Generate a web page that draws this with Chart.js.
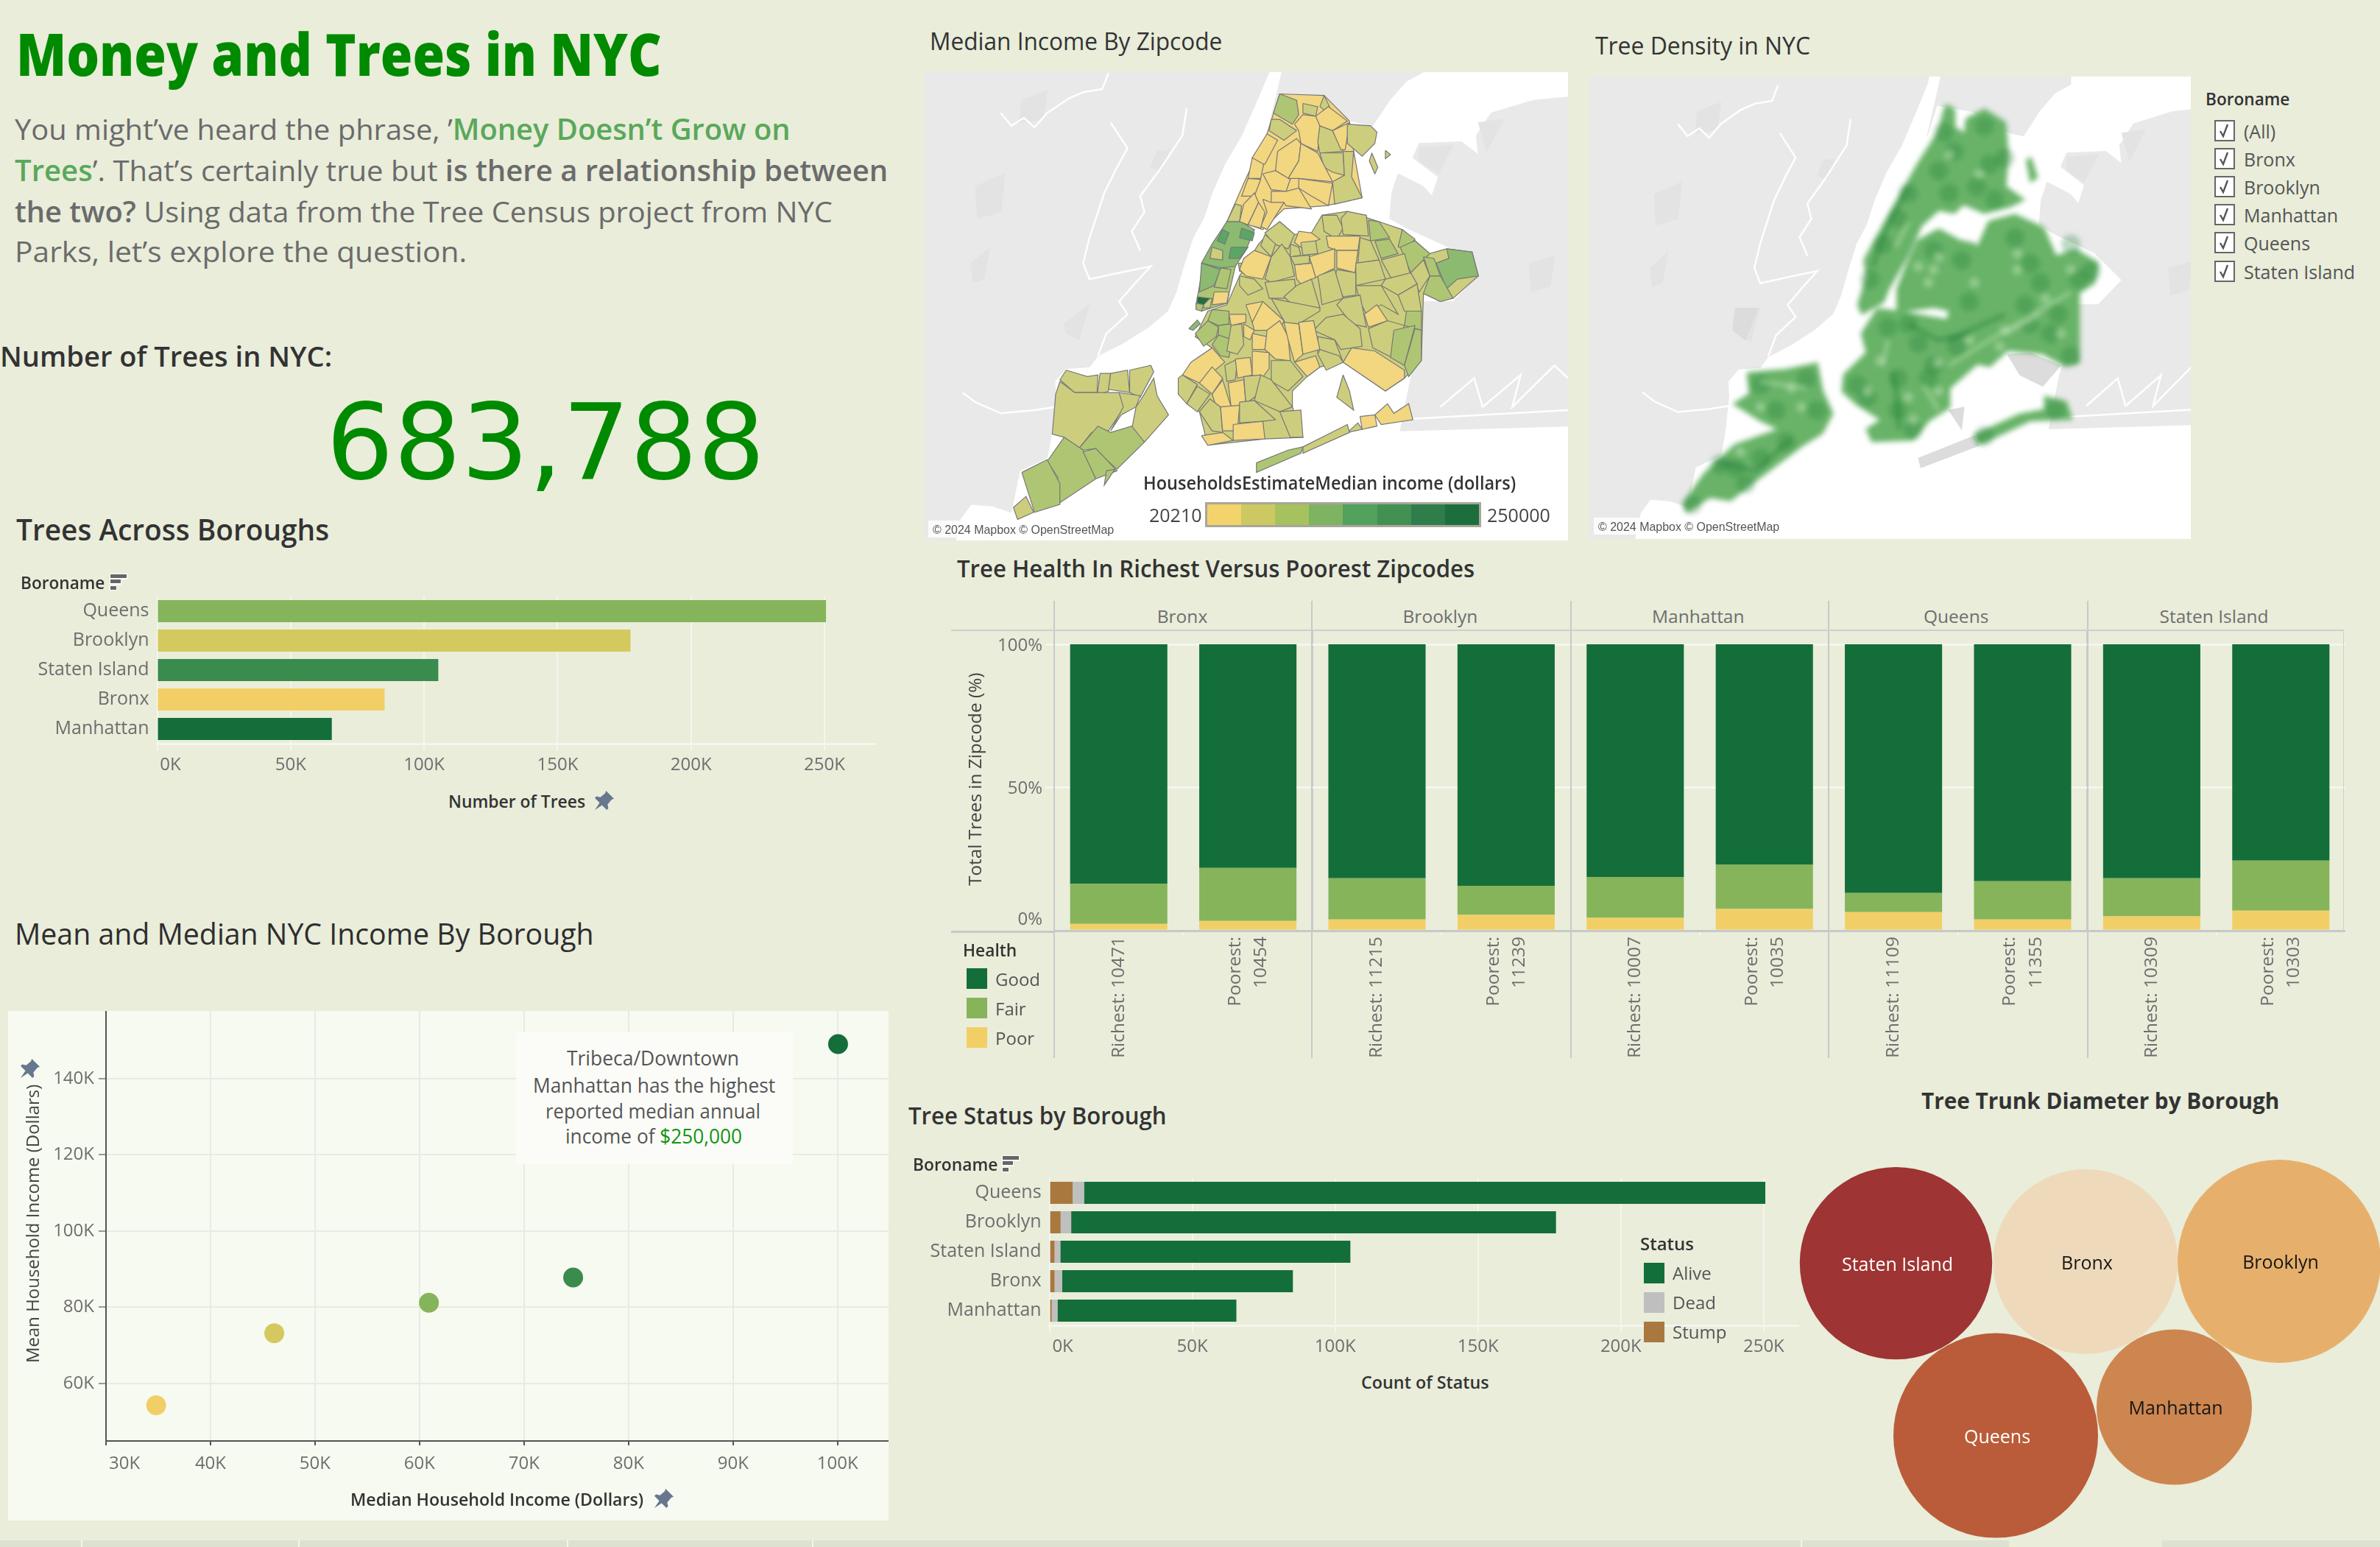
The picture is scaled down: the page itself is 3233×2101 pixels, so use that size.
<!DOCTYPE html>
<html>
<head>
<meta charset="utf-8">
<title>Money and Trees in NYC</title>
<script src="https://cdn.jsdelivr.net/npm/chart.js@4"></script>
<style>
  html, body { margin: 0; padding: 0; background: #e9edda; }
  #page { position: relative; width: 3233px; height: 2101px; overflow: hidden; background: #e9edda; }
  #page canvas, .box { position: absolute; }
  .txt { position: absolute; white-space: pre; transform-origin: 0 0; }
</style>
</head>
<body>
<div id="page"></div>
<script>
// TREES ACROSS BOROUGHS
const boroughs = ["Queens", "Brooklyn", "Staten Island", "Bronx", "Manhattan"];
const treeCounts = [250551, 177293, 105318, 85203, 65423];
const countTicks = [0, 50000, 100000, 150000, 200000, 250000];

// TREE STATUS
const statusStump = [8100, 3900, 1800, 1800, 800];
const statusDead = [4000, 3700, 2000, 2600, 2000];
const statusAlive = [238451, 169693, 101518, 80803, 62623];

// HEALTH IN RICHEST / POOREST ZIPCODES
const healthPanels = ["Bronx", "Brooklyn", "Manhattan", "Queens", "Staten Island"];
const zipLabels = ["Richest: 10471", ["Poorest:", "10454"], "Richest: 11215", ["Poorest:", "11239"],
  "Richest: 10007", ["Poorest:", "10035"], "Richest: 11109", ["Poorest:", "11355"],
  "Richest: 10309", ["Poorest:", "10303"]];
const healthPoor = [2.4, 3.4, 3.9, 5.5, 4.5, 7.6, 6.5, 3.9, 5.0, 7.0];
const healthFair = [13.9, 18.5, 14.4, 10.2, 14.3, 15.4, 6.7, 13.4, 13.3, 17.5];
const healthGood = [83.7, 78.1, 81.7, 84.3, 81.2, 77.0, 86.8, 82.7, 81.7, 75.5];
const healthTicks = [0, 50, 100];

// MEAN / MEDIAN INCOME
const incomeBoroughs = ["Bronx", "Brooklyn", "Queens", "Staten Island", "Manhattan"];
const medianIncome = [34800, 46100, 60900, 74700, 100050];
const meanIncome = [54300, 73200, 81200, 87800, 149000];
const medianTicks = [30000, 40000, 50000, 60000, 70000, 80000, 90000, 100000];
const meanTicks = [60000, 80000, 100000, 120000, 140000];

// TRUNK DIAMETER BUBBLES
const trunkNames = ["Staten Island", "Bronx", "Brooklyn", "Queens", "Manhattan"];
const trunkSize = [130.7, 125.5, 138, 139, 105.5];

// INCOME LEGEND
const incomeSteps = ["#f3d36b", "#ccc962", "#a6c25e", "#7eb461", "#52a15c", "#439053", "#2f7d4b", "#1c6f3c"];
const filterItems = ["(All)", "Bronx", "Brooklyn", "Manhattan", "Queens", "Staten Island"];

// MAP SHAPES as [x, y, x, y, ...] in map units
const landShapes = [
  [-40,15, 830,15, 825,42, 790,150, 760,240, 720,330, 690,420, 670,500, 645,560, 625,640, 605,730, 585,790, 540,840, 480,890, 420,930, 400,965, 345,970, 318,1010, 320,1060, 310,1180, 300,1250, 235,1290, 215,1420, 170,1400, 120,1395, 95,1440, 80,1530, -40,1530],
  [860,15, 1190,15, 1190,42, 1150,70, 1110,130, 1070,210, 1020,195, 940,130, 850,110, 825,210],
  [1532,120, 1450,130, 1350,170, 1315,240, 1320,300, 1280,260, 1180,265, 1165,310, 1225,370, 1210,430, 1190,400, 1130,360, 1115,420, 1110,500, 1150,530, 1250,590, 1320,680, 1260,760, 1190,760, 1180,900, 1160,1000, 1135,1165, 1532,1150]
];
const darkLandShapes = [
  [560,290, 590,285, 570,350, 545,340],
  [340,830, 400,770, 375,880, 345,860],
  [120,640, 165,590, 150,690, 125,700],
  [1320,200, 1380,190, 1340,290],
  [1180,280, 1260,270, 1225,360, 1180,320],
  [240,130, 300,100, 290,190, 235,200],
  [130,400, 200,360, 190,480, 135,500],
  [1440,640, 1500,620, 1490,710, 1445,730]
];
const riverLines = [
  [190,170, 215,210, 245,185, 270,215, 300,170, 350,125, 385,105, 430,95, 445,45],
  [450,200, 490,280, 465,340, 435,420, 400,560, 385,640, 400,690, 470,670, 545,650, 510,700, 470,760, 490,800, 440,860, 420,930],
  [630,155, 620,240, 565,350, 520,430, 530,480, 500,540, 520,600],
  [100,1045, 130,1075, 190,1110, 270,1100, 320,1090],
  [1230,1090, 1310,1000, 1330,1090, 1420,990, 1400,1090, 1500,960, 1532,1000],
  [1150,1128, 1532,1100]
];
const boroughBase = [
  [1, 820,235, 850,110, 955,115, 1015,195, 1025,290, 1045,435, 960,460, 860,470, 810,535, 755,510, 725,510, 770,375],
  [3, 725,510, 790,535, 745,650, 725,765, 665,790, 652,770, 670,640],
  [2, 850,510, 885,550, 925,545, 950,490, 1010,478, 1085,510, 1140,535, 1205,610, 1245,595, 1305,605, 1320,680, 1260,750, 1190,735, 1185,945, 1145,1000, 1100,1040, 1000,950, 945,965, 915,995, 880,1040, 880,1090, 905,1185, 815,1190, 680,1210, 660,1105, 610,1050, 620,990, 690,905, 650,870, 680,790, 725,770, 755,680, 800,580]
];
const bronxZones = [
  [3, 850,110, 890,130, 895,175, 880,205, 835,170],
  [2, 905,140, 940,150, 935,180, 905,170],
  [2, 945,150, 955,115, 968,150, 960,165],
  [1, 935,180, 965,150, 1010,195, 975,225, 930,205],
  [1, 885,205, 905,175, 935,180, 945,210, 940,290, 900,265, 895,225],
  [2, 830,190, 850,190, 890,225, 860,255, 825,225],
  [2, 945,210, 975,225, 1000,290, 945,295, 940,260],
  [1, 975,225, 1015,200, 1005,285, 995,285],
  [2, 1010,205, 1065,210, 1080,230, 1075,265, 1045,305, 1010,265],
  [2, 1068,295, 1082,340, 1075,360, 1062,320],
  [2, 1100,287, 1112,300, 1100,313],
  [2, 945,295, 1000,295, 1003,365, 975,355, 955,340],
  [2, 1000,290, 1025,290, 1020,370, 1045,435, 980,455, 975,385, 1003,365],
  [1, 845,290, 890,250, 900,265, 895,320, 870,375, 840,350],
  [1, 900,265, 940,295, 975,385, 895,375, 870,375, 895,320],
  [1, 895,375, 975,390, 965,460, 925,430, 895,405],
  [1, 810,360, 840,350, 875,378, 865,415, 830,410],
  [1, 830,415, 865,415, 895,405, 925,470, 865,460, 860,450, 830,450],
  [1, 810,440, 830,450, 860,450, 820,535, 805,525, 820,480]
];
const manhattanZones = [
  [1, 820,235, 845,255, 815,330, 800,330, 785,310],
  [1, 785,310, 812,330, 805,375, 775,375],
  [1, 775,375, 805,378, 790,430, 760,430],
  [2, 745,455, 760,460, 755,510, 725,510],
  [1, 765,455, 790,420, 800,450, 775,520, 755,510],
  [1, 800,450, 815,480, 805,530, 775,520],
  [4, 725,510, 755,510, 765,515, 790,535, 770,600, 745,650, 710,655, 665,640, 690,580],
  [5, 715,535, 730,545, 720,580, 702,570],
  [5, 760,530, 790,545, 785,570, 755,560],
  [5, 735,590, 775,590, 755,625, 730,625],
  [2, 690,590, 715,600, 715,630, 685,625],
  [4, 665,640, 710,660, 695,710, 660,730],
  [3, 710,655, 735,660, 725,720, 695,715],
  [1, 695,730, 730,730, 725,765, 690,770],
  [2, 670,755, 690,750, 685,780, 670,780],
  [6, 655,745, 685,750, 670,770, 655,765],
  [3, 652,765, 670,770, 665,790, 652,785],
  [4, 635,845, 655,818, 662,830, 645,850],
  [3, 752,640, 775,640, 770,670, 755,665]
];
const queensZones = [
  [2, 850,510, 885,550, 870,595, 835,580, 815,545],
  [2, 815,550, 840,580, 830,620, 805,585],
  [1, 790,600, 830,620, 810,690, 770,680, 755,660, 765,625],
  [2, 830,620, 855,580, 875,620, 885,680, 830,700, 815,690],
  [2, 755,680, 790,690, 810,720, 775,740, 755,710],
  [2, 815,700, 885,690, 890,740, 860,750, 825,750],
  [1, 895,540, 925,545, 945,565, 900,590, 885,575],
  [2, 875,580, 895,590, 900,615, 875,620],
  [2, 900,575, 935,570, 940,610, 905,615],
  [2, 950,490, 985,490, 1000,530, 985,565, 955,540],
  [2, 1010,478, 1055,490, 1060,555, 1000,550, 995,500],
  [1, 960,555, 1040,555, 1035,600, 985,600, 965,590],
  [3, 1060,505, 1085,510, 1110,560, 1065,570],
  [2, 1040,560, 1065,570, 1085,630, 1035,640],
  [3, 1075,570, 1110,565, 1130,610, 1090,625],
  [3, 1130,590, 1140,535, 1170,565, 1155,590],
  [3, 1135,590, 1170,570, 1205,610, 1160,670],
  [2, 1090,630, 1145,610, 1160,680, 1115,690],
  [1, 985,600, 1035,600, 1028,670, 985,655],
  [1, 920,620, 980,595, 980,655, 935,685],
  [1, 885,645, 925,640, 935,685, 900,705, 890,690],
  [2, 875,620, 920,615, 920,640, 885,645],
  [2, 1030,640, 1085,630, 1100,690, 1030,710],
  [2, 985,660, 1030,670, 1030,740, 1000,745, 980,690],
  [2, 940,680, 980,660, 1000,750, 950,770, 945,720],
  [2, 890,710, 925,690, 945,780, 880,770, 860,745],
  [4, 1245,595, 1305,605, 1320,680, 1270,690, 1245,720, 1220,640, 1250,625],
  [3, 1190,620, 1215,625, 1230,680, 1205,680],
  [3, 1205,680, 1230,680, 1260,750, 1230,760, 1190,735],
  [2, 1160,670, 1190,630, 1205,680, 1180,730],
  [2, 1100,690, 1160,670, 1175,705, 1130,740, 1090,710],
  [2, 1030,710, 1090,710, 1130,800, 1090,770, 1055,800, 1040,760],
  [2, 1000,750, 1040,740, 1055,840, 1020,830, 985,770],
  [2, 1130,740, 1175,705, 1185,790, 1145,790],
  [3, 1150,790, 1185,790, 1185,850, 1145,835],
  [1, 1050,800, 1080,770, 1105,820, 1060,840],
  [2, 1105,820, 1145,835, 1115,935, 1070,905, 1060,845],
  [3, 1120,850, 1170,835, 1145,960, 1112,935],
  [3, 1170,845, 1185,850, 1185,945, 1155,995, 1145,960],
  [1, 1020,905, 1075,915, 1145,975, 1145,1000, 1100,1040, 1000,950],
  [2, 960,810, 1000,800, 1040,845, 1045,900, 995,910, 980,880, 930,850],
  [2, 940,870, 980,880, 1000,950, 960,970, 940,920],
  [2, 830,750, 945,780, 945,790, 870,850, 860,820],
  [2, 1010,1170, 1035,1140, 1045,1160],
  [1, 1040,1120, 1075,1115, 1080,1150, 1045,1160],
  [1, 1075,1115, 1105,1080, 1120,1110, 1155,1080, 1165,1130, 1090,1145],
  [2, 905,1215, 1010,1145, 1015,1170, 905,1235],
  [3, 795,1265, 870,1225, 905,1215, 900,1235, 795,1295],
  [2, 1000,990, 1015,1040, 1025,1100, 985,1060]
];
const brooklynZones = [
  [3, 690,785, 730,790, 730,830, 705,835, 680,820],
  [3, 650,860, 680,820, 705,840, 700,870, 670,900],
  [3, 705,835, 735,830, 738,880, 705,865],
  [3, 690,895, 705,865, 738,880, 730,935, 710,930],
  [1, 730,800, 770,800, 770,825, 735,835],
  [1, 770,770, 810,760, 820,820, 785,825],
  [1, 810,760, 860,820, 850,850, 790,850, 785,825],
  [2, 735,835, 760,830, 765,895, 750,925, 725,915],
  [1, 765,830, 790,850, 780,880, 765,870],
  [1, 785,860, 820,870, 815,910, 785,910],
  [1, 820,850, 850,820, 870,870, 875,945, 840,940, 815,910],
  [1, 860,825, 895,830, 905,925, 885,950, 870,880],
  [1, 895,825, 930,820, 945,910, 905,925],
  [1, 620,990, 640,950, 690,905, 720,950, 660,1015],
  [1, 660,1015, 690,965, 715,1000, 690,1050],
  [2, 610,1000, 620,990, 655,1020, 630,1080, 610,1050],
  [2, 655,1025, 685,1050, 655,1105, 630,1080],
  [1, 690,1050, 715,1005, 735,1090, 700,1090],
  [1, 728,1015, 765,1005, 770,1080, 735,1090],
  [2, 720,960, 750,940, 745,1005, 725,1010],
  [1, 745,940, 780,935, 785,990, 750,1000],
  [1, 785,915, 825,920, 825,970, 805,1005, 785,990],
  [2, 765,995, 805,990, 800,1050, 770,1080],
  [2, 830,945, 875,945, 905,995, 870,1040, 830,1010],
  [2, 805,990, 830,1005, 880,1090, 850,1105, 790,1070],
  [2, 660,1105, 685,1065, 710,1090, 715,1170, 690,1165],
  [1, 710,1090, 755,1085, 750,1165, 715,1165],
  [2, 755,1075, 790,1070, 840,1130, 810,1135, 755,1140],
  [1, 740,1145, 810,1135, 815,1190, 740,1195],
  [1, 665,1180, 715,1170, 740,1195, 680,1210],
  [2, 850,1105, 900,1100, 905,1185, 875,1185],
  [1, 885,950, 935,930, 945,965, 915,995],
  [2, 945,910, 990,930, 1000,950, 960,975, 940,925]
];
const statenZones = [
  [2, 345,975, 395,995, 420,990, 418,1045, 365,1045, 330,1005],
  [2, 425,985, 450,985, 445,1040, 418,1055],
  [2, 450,985, 490,975, 495,1045, 445,1035],
  [2, 495,975, 545,960, 552,980, 520,1060, 495,1045],
  [2, 330,1010, 365,1045, 470,1045, 485,1085, 445,1165, 405,1170, 375,1220, 340,1185, 312,1175, 320,1050],
  [2, 470,1045, 520,1055, 510,1090, 475,1115, 450,1165, 480,1090],
  [2, 525,1060, 552,1000, 560,1055, 587,1115, 530,1200, 500,1160, 510,1090],
  [3, 375,1220, 420,1150, 450,1170, 500,1150, 530,1200, 465,1285, 440,1255, 415,1220, 385,1225],
  [3, 340,1185, 385,1225, 415,1315, 330,1390, 325,1310, 300,1260],
  [3, 385,1230, 415,1220, 465,1290, 415,1315],
  [3, 240,1295, 300,1255, 330,1330, 330,1395, 270,1420],
  [2, 220,1405, 250,1370, 268,1420, 230,1442],
  [3, 440,1290, 460,1285, 435,1335]
];

// DENSITY MAP SHAPES, in the density map's own units
const densityGrayShapes = [
  [835,925, 880,920, 940,960, 905,1025, 860,990],
  [660,1250, 770,1180, 780,1210, 665,1280],
  [720,1100, 750,1090, 745,1160],
  [300,780, 345,780, 320,880, 295,850]
];
const densityZones = [
  [715,145, 730,160, 730,215, 755,240, 745,330, 750,450, 730,480, 700,470, 665,520, 640,610, 600,720, 590,760, 550,795, 543,770, 560,680, 555,630, 610,470, 660,330, 700,230],
  [755,190, 790,160, 830,200, 835,300, 830,400, 865,440, 840,460, 790,480, 745,450, 750,330],
  [880,310, 892,370, 882,380, 875,320],
  [700,535, 740,570, 770,580, 810,690, 835,770, 770,800, 690,775, 620,790, 620,720, 640,640, 660,570],
  [800,510, 850,490, 905,530, 930,620, 970,600, 1012,640, 1005,700, 975,730, 975,950, 950,960, 905,920, 835,910, 800,960, 770,950, 750,880, 720,870, 720,800],
  [580,785, 610,790, 720,820, 790,840, 810,880, 770,960, 720,1030, 720,1090, 680,1130, 650,1190, 570,1195, 560,1160, 590,1130, 540,1080, 512,1040, 515,990, 560,920, 550,860],
  [770,1180, 860,1115, 910,1100, 910,1060, 950,1075, 960,1125, 880,1130, 780,1205],
  [325,985, 400,975, 460,955, 470,1040, 490,1110, 470,1170, 430,1210, 330,1330, 290,1380, 250,1370, 205,1415, 200,1390, 240,1300, 300,1210, 390,1160, 350,1130, 300,1080, 330,1050]
];
const densityDarkStreaks = [
  [610,980, 618,1060, 622,1160],
  [640,400, 600,520, 570,650],
  [640,830, 700,880, 760,860],
  [720,880, 830,800],
  [260,1260, 340,1290, 410,1190]
];
const densityLightStreaks = [
  [720,960, 800,880, 960,730],
  [640,510, 615,590],
  [600,880, 590,960],
  [830,860, 900,800],
  [670,1020, 700,1100],
  [350,1010, 440,1030]
];
const densityDarkX = [640, 620, 590, 565, 730, 700, 790, 800, 830, 745, 690, 850, 880, 960, 1000, 975, 960, 935, 880, 735, 620, 620, 540, 640, 600, 660, 350, 380, 270, 300, 350, 215, 400, 930, 790, 710, 775, 810, 720, 760, 900, 870, 920, 680, 560, 650, 690, 440, 460, 320];
const densityDarkY = [420, 500, 580, 690, 290, 350, 210, 330, 310, 630, 600, 560, 640, 580, 665, 690, 930, 800, 830, 900, 1000, 1100, 1020, 830, 840, 890, 1020, 1100, 1270, 1280, 1250, 1395, 1200, 1100, 1180, 230, 400, 440, 420, 760, 700, 770, 860, 1000, 1060, 1160, 960, 1000, 1100, 1330];
const densityLightX = [680, 690, 660, 700, 855, 700, 585, 760, 650, 410, 350, 830, 910, 960, 770, 720, 780, 855, 940, 820, 640, 700, 560, 430, 310];
const densityLightY = [700, 660, 650, 620, 660, 950, 945, 880, 1130, 1030, 1090, 850, 750, 660, 700, 300, 360, 610, 860, 900, 1060, 1040, 1040, 1090, 1230];

const zoneColors = [null, "#f2d680", "#ccce7d", "#aec673", "#8bba70", "#5ba667", "#1f6f3f"];
const green = { dark: "#146e3a", mid: "#3a8b4e", fair: "#86b45a", olive: "#d4c95f", poor: "#f2cf66" };
const gridColor = "#f4f6ee";
const tickText = "#6e6e6e";

Chart.defaults.font.family = '"Open Sans"';
Chart.defaults.font.size = 24;
Chart.defaults.color = tickText;
Chart.defaults.animation = false;
Chart.defaults.responsive = false;
Chart.defaults.devicePixelRatio = 1;
Chart.defaults.layout.autoPadding = false;
Chart.defaults.plugins.legend.display = false;
Chart.defaults.plugins.tooltip.enabled = false;

const page = document.getElementById("page");
const measure = document.createElement("canvas").getContext("2d");

// text sits on a baseline, and is squeezed to the width it has in the reference
function text(runs, left, baseline, size, o = {}) {
  const family = o.font || '"Open Sans"';
  const el = document.createElement("div");
  el.className = "txt";
  if (typeof runs === "string") runs = [{ t: runs }];
  runs.forEach(r => {
    const s = document.createElement("span");
    s.textContent = r.t;
    s.style.color = r.c || o.c || "#333";
    s.style.fontWeight = r.w || o.w || 400;
    el.appendChild(s);
  });
  el.style.font = `${o.w || 400} ${size}px ${family}`;
  measure.font = el.style.font;
  const m = measure.measureText("Hg");
  const asc = m.fontBoundingBoxAscent, h = asc + m.fontBoundingBoxDescent;
  el.style.lineHeight = h + "px";
  page.appendChild(el);
  const k = o.width ? o.width / el.offsetWidth : 1;
  if (o.rotate) {
    el.style.left = "0px";
    el.style.top = "0px";
    el.style.transform = `translate(${left - h / 2}px, ${baseline}px) rotate(-90deg) scaleX(${k})`;
  } else {
    el.style.left = left + "px";
    el.style.top = baseline - asc + "px";
    el.style.transform = `scaleX(${k})`;
  }
  return el;
}

function box(left, top, w, h, bg, extra = "") {
  const el = document.createElement("div");
  el.className = "box";
  el.style.cssText = `left:${left}px;top:${top}px;width:${w}px;height:${h}px;background:${bg};${extra}`;
  page.appendChild(el);
  return el;
}

function canvas(left, top, w, h, extra = "") {
  const c = document.createElement("canvas");
  c.width = w;
  c.height = h;
  c.style.cssText = `left:${left}px;top:${top}px;width:${w}px;height:${h}px;${extra}`;
  page.appendChild(c);
  return c;
}

function pin(left, top, w, h, rotate = 0) {
  const el = box(left, top, w, h, "transparent", `transform:rotate(${rotate}deg)`);
  el.innerHTML = `<svg width="${w}" height="${h}" viewBox="0 0 24 24"><path fill="#66778f" d="M14 0l10 10-3 1-5 6 1 5-2 2-6-6-9 6 6-9-6-6 2-2 5 1 6-5z"/></svg>`;
}

function sortIcon(left, top) {
  box(left - 1, top - 1, 24, 8, "#fff");
  box(left - 1, top + 6, 16, 8, "#fff");
  box(left - 1, top + 15, 10, 7, "#fff");
  box(left, top, 22, 5, "#666");
  box(left, top + 7, 14, 5, "#666");
  box(left, top + 16, 8, 5, "#666");
}

// moves single tick labels, for the ones the reference pulls inside its panel
const tickNudge = {
  id: "tickNudge",
  beforeDraw(chart, args, opts) {
    Object.keys(opts).forEach(axis => {
      if (!chart.scales[axis]) return;
      const items = chart.scales[axis].getLabelItems();
      Object.keys(opts[axis]).forEach(i => {
        const it = items[i];
        if (!it || it.nudged) return;
        it.options.translation[0] += opts[axis][i][0];
        it.options.translation[1] += opts[axis][i][1];
        it.nudged = true;
      });
    });
  }
};
Chart.register(tickNudge);

const kLabel = v => v / 1000 + "K";
const setTicks = list => s => { s.ticks = list.map(v => ({ value: v })); };
// fixed axis sizes, without the room the library keeps for half a label
const fitX = h => s => { s.height = h; s.paddingLeft = 0; s.paddingRight = 0; };
const fitY = w => s => { s.width = w; s.paddingTop = 0; s.paddingBottom = 0; };

// --- page texts ---
const grey = "#6b6b6b", leaf = "#5aa85a";
text("Money and Trees in NYC", 22, 103, 80, { w: 800, c: "#008a00", width: 877 });
text([{ t: "You might’ve heard the phrase, ’" }, { t: "Money Doesn’t Grow on", c: leaf, w: 600 }], 20, 190, 39, { c: grey, width: 1054 });
text([{ t: "Trees", c: leaf, w: 600 }, { t: "’. That’s certainly true but " }, { t: "is there a relationship between", w: 600 }], 20, 246, 39, { c: grey, width: 1186 });
text([{ t: "the two?", w: 600 }, { t: " Using data from the Tree Census project from NYC" }], 20, 302, 39, { c: grey, width: 1111 });
text("Parks, let’s explore the question.", 20, 356, 39, { c: grey, width: 614 });
text("Number of Trees in NYC:", 0, 498, 38, { w: 600, width: 451 });
text("683,788", 443, 650, 142, { font: '"DejaVu Sans"', c: "#008a00", width: 596 });
text("Trees Across Boroughs", 22, 734, 39, { w: 600, width: 425 });
text("Mean and Median NYC Income By Borough", 20, 1283, 40, { w: 400, c: "#2e2e2e", width: 787 });
text("Median Income By Zipcode", 1263, 68, 32, { width: 397 });
text("Tree Density in NYC", 2167, 74, 32, { width: 292 });
text("Tree Health In Richest Versus Poorest Zipcodes", 1300, 784, 33, { w: 600, width: 703 });
text("Tree Status by Borough", 1234, 1527, 32, { w: 600, width: 350 });
text("Tree Trunk Diameter by Borough", 2610, 1506, 31, { w: 700, width: 486 });

// --- trees across boroughs ---
new Chart(canvas(0, 800, 1190, 260), {
  type: "bar",
  data: { labels: boroughs, datasets: [{ data: treeCounts, backgroundColor: [green.fair, green.olive, green.mid, green.poor, green.dark], barPercentage: 0.75, categoryPercentage: 1 }] },
  options: {
    indexAxis: "y",
    layout: { padding: { top: 10 } },
    plugins: { tickNudge: { x: { 0: [18, 0] } } },
    scales: {
      x: { min: 0, max: 269300, afterBuildTicks: setTicks(countTicks), afterFit: fitX(50),
        ticks: { callback: kLabel, padding: 5, maxRotation: 0 }, grid: { color: gridColor, lineWidth: 2, tickLength: 10, tickColor: gridColor }, border: { color: gridColor, width: 3 } },
      y: { afterFit: fitY(213.5), ticks: { padding: 11, autoSkip: false, font: { size: 25 } }, grid: { display: false, drawTicks: false }, border: { display: false } }
    }
  }
});
text("Boroname", 28, 800, 24, { w: 600, width: 114 });
sortIcon(150, 780);
text("Number of Trees", 609, 1097, 24, { w: 600, width: 186 });
pin(808, 1074, 26, 26);

// --- tree status by borough ---
new Chart(canvas(1225, 1590, 1219, 270), {
  type: "bar",
  data: { labels: boroughs, datasets: [
    { label: "Stump", data: statusStump, backgroundColor: "#a9783f" },
    { label: "Dead", data: statusDead, backgroundColor: "#bfbfbf" },
    { label: "Alive", data: statusAlive, backgroundColor: green.dark }
  ].map(d => ({ ...d, barPercentage: 0.75, categoryPercentage: 1 })) },
  options: {
    indexAxis: "y",
    layout: { padding: { top: 10 } },
    plugins: { tickNudge: { x: { 0: [18, 0] } } },
    scales: {
      x: { stacked: true, min: 0, max: 262400, afterBuildTicks: setTicks(countTicks), afterFit: fitX(60),
        ticks: { callback: kLabel, padding: 5, maxRotation: 0 }, grid: { color: gridColor, lineWidth: 2, tickLength: 10, tickColor: gridColor }, border: { color: gridColor, width: 3 } },
      y: { stacked: true, afterFit: fitY(200.6), ticks: { padding: 11, autoSkip: false, font: { size: 25 } }, grid: { display: false, drawTicks: false }, border: { display: false } }
    }
  }
});
text("Boroname", 1240, 1590, 24, { w: 600, width: 115 });
sortIcon(1362, 1570);
text("Count of Status", 1849, 1886, 24, { w: 600, width: 174 });
text("Status", 2228, 1698, 24, { w: 600, width: 73 });
[["Alive", green.dark, 1715], ["Dead", "#bfbfbf", 1755], ["Stump", "#a9783f", 1795]].forEach(([name, col, y]) => {
  box(2233, y, 28, 28, col);
  text(name, 2272, y + 23, 24, { c: "#555" });
});

// --- health in richest / poorest zipcodes ---
new Chart(canvas(1280, 856, 1906, 581), {
  type: "bar",
  data: { labels: zipLabels, datasets: [
    { label: "Poor", data: healthPoor, backgroundColor: green.poor },
    { label: "Fair", data: healthFair, backgroundColor: green.fair },
    { label: "Good", data: healthGood, backgroundColor: green.dark }
  ].map(d => ({ ...d, barPercentage: 0.753, categoryPercentage: 1 })) },
  options: {
    plugins: { tickNudge: { x: { 1: [-17, 0], 3: [-17, 0], 5: [-17, 0], 7: [-17, 0], 9: [-17, 0] }, y: { 0: [0, -15], 1: [0, 2], 2: [0, 2] } } },
    scales: {
      x: { stacked: true, afterFit: fitX(173),
        ticks: { autoSkip: false, minRotation: 90, maxRotation: 90, padding: 2, font: { size: 24.5, lineHeight: 1.43 } },
        grid: { offset: true, lineWidth: 2, tickLength: 6, color: c => (c.index % 2 === 0 ? "#c9c9c9" : "rgba(0,0,0,0)"), tickColor: c => (c.index % 2 === 0 ? "rgba(0,0,0,0)" : gridColor) },
        border: { color: "#c8c8c8", width: 3 } },
      y: { stacked: true, min: 0, max: 104.9, afterBuildTicks: setTicks(healthTicks), afterFit: fitY(152),
        ticks: { callback: v => v + "%", padding: 4 },
        grid: { color: c => (c.tick.value === 0 ? "rgba(0,0,0,0)" : gridColor), lineWidth: 3, tickLength: 12, tickColor: c => (c.tick.value === 0 ? "rgba(0,0,0,0)" : gridColor) },
        border: { display: false } }
    }
  }
});
[1432, 1782, 2134, 2484, 2836].forEach(x => box(x - 1, 816, 2, 621, "#c9c9c9"));
box(3183, 856, 1, 409, "#cfcfcf");
box(1292, 855, 1892, 2, "#cfcfcf");
box(1292, 1264, 140, 3, "#c8c8c8");
healthPanels.forEach((name, i) => {
  const el = text(name, 1606 + i * 350.4, 846, 24.5, { c: tickText });
  el.style.transform = "translateX(-50%)";
});
text("Total Trees in Zipcode (%)", 1324, 1203, 23, { rotate: true, c: "#444", width: 289 });
text("Health", 1308, 1299, 24, { w: 600, width: 73 });
[["Good", green.dark, 1315], ["Fair", green.fair, 1355], ["Poor", green.poor, 1395]].forEach(([name, col, y]) => {
  box(1313, y, 28, 28, col);
  text(name, 1352, y + 24, 24, { c: "#555" });
});

// --- mean / median income scatter ---
new Chart(canvas(11, 1373, 1196, 692, "background:#f7faf0"), {
  type: "scatter",
  data: { labels: incomeBoroughs, datasets: [{
    data: medianIncome.map((x, i) => ({ x, y: meanIncome[i] })),
    pointRadius: 13.5,
    pointBorderWidth: 0,
    pointBackgroundColor: [green.poor, green.olive, green.fair, green.mid, green.dark]
  }] },
  options: {
    plugins: { tickNudge: { x: { 0: [25, 0] } } },
    scales: {
      x: { min: 30000, max: 104880, afterBuildTicks: setTicks(medianTicks), afterFit: fitX(108),
        ticks: { callback: kLabel, padding: 11, maxRotation: 0 }, grid: { color: "#e8ebe3", lineWidth: 2, tickLength: 6, tickColor: "#555" }, border: { color: "#555", width: 2 } },
      y: { min: 44940, max: 157700, afterBuildTicks: setTicks(meanTicks), afterFit: fitY(133),
        ticks: { callback: kLabel, padding: 6 }, grid: { color: "#e8ebe3", lineWidth: 2, tickLength: 10, tickColor: "#999" }, border: { color: "#555", width: 2 } }
    }
  }
});
box(701, 1402, 376, 179, "#fbfcf8");
text("Tribeca/Downtown", 770, 1447, 27, { c: "#555", width: 234 });
text("Manhattan has the highest", 724, 1484, 27, { c: "#555", width: 329 });
text("reported median annual", 741, 1519, 27, { c: "#555", width: 292 });
text([{ t: "income of " }, { t: "$250,000", c: "#129312" }], 768, 1553, 27, { c: "#555", width: 240 });
text("Median Household Income (Dollars)", 476, 2045, 24, { w: 600, width: 398 });
pin(889, 2022, 26, 26);
text("Mean Household Income (Dollars)", 43, 1851, 24, { rotate: true, c: "#444", width: 378 });
pin(28, 1438, 26, 26);

// --- trunk diameter bubbles ---
const bubbleCentreX = [155.5, 413, 676, 291, 533.5];
const bubbleCentreY = [175.6, 173.4, 173, 409.6, 371];
const bubbleLabels = {
  id: "bubbleLabels",
  afterDatasetsDraw(chart) {
    const ctx = chart.ctx;
    chart.getDatasetMeta(0).data.forEach((el, i) => {
      ctx.save();
      ctx.font = '25px "Open Sans"';
      ctx.textAlign = "center";
      ctx.textBaseline = "middle";
      ctx.fillStyle = (i === 0 || i === 3) ? "#fff" : "#161616";
      ctx.fillText(trunkNames[i], el.x + 2, el.y + 3);
      ctx.restore();
    });
  }
};
new Chart(canvas(2420, 1540, 813, 561), {
  type: "bubble",
  data: { labels: trunkNames, datasets: [{
    data: trunkSize.map((r, i) => ({ x: bubbleCentreX[i], y: bubbleCentreY[i], r })),
    backgroundColor: ["#9e3433", "#eedaba", "#e6b06c", "#ba5c39", "#ce8650"],
    borderWidth: 0,
    clip: false
  }] },
  options: { scales: { x: { display: false, min: 0, max: 813 }, y: { display: false, min: 0, max: 561, reverse: true } } },
  plugins: [bubbleLabels]
});

// --- maps ---
const toPoints = flat => {
  const pts = [];
  for (let i = 0; i < flat.length; i += 2) pts.push({ x: flat[i], y: flat[i + 1] });
  pts.push({ x: flat[0], y: flat[1] });
  return pts;
};
const polygon = (flat, fill, stroke, width, axes = {}) => ({
  data: toPoints(flat), showLine: true, fill: "shape", backgroundColor: fill,
  borderColor: stroke || fill, borderWidth: width === undefined ? 1 : width, pointRadius: 0, tension: 0, ...axes
});
const polyline = (flat, color, width) => ({
  data: toPoints(flat).slice(0, -1), showLine: true, fill: false, borderColor: color, borderWidth: width, pointRadius: 0, tension: 0
});
const landLayers = () => [
  ...landShapes.map(s => polygon(s, "#e9e9e9")),
  ...darkLandShapes.map(s => polygon(s, "#e3e3e3")),
  ...riverLines.map(s => polyline(s, "#ffffff", 2.5))
];
const zoneLayer = z => polygon(z.slice(1), zoneColors[z[0]], "#777", 1.2);
const hiddenAxis = (min, max, reverse = false) => ({ display: false, type: "linear", min, max, reverse });
// the library paints the first dataset last, so the layers go in reversed
const layered = list => list.slice().reverse();

new Chart(canvas(1256, 98, 874, 636, "background:#fff"), {
  type: "scatter",
  data: { datasets: layered([
    ...landLayers(),
    ...boroughBase.map(zoneLayer),
    ...bronxZones.map(zoneLayer),
    ...manhattanZones.map(zoneLayer),
    ...queensZones.map(zoneLayer),
    ...brooklynZones.map(zoneLayer),
    ...statenZones.map(zoneLayer)
  ]) },
  options: { scales: { x: hiddenAxis(10, 1532), y: hiddenAxis(42, 1508, true) } }
});
box(1261, 707, 260, 23, "rgba(255,255,255,.8)");
text("© 2024 Mapbox © OpenStreetMap", 1267, 725, 17, { font: '"Liberation Sans"', c: "#555", width: 246 });
text("HouseholdsEstimateMedian income (dollars)", 1553, 665, 25, { w: 600, width: 506 });
text("20210", 1561, 709, 25, { c: "#444", width: 71 });
text("250000", 2020, 709, 25, { c: "#444", width: 86 });
box(1637, 682, 375, 34, "#a9a59a");
incomeSteps.forEach((col, i) => box(1640 + i * 46.1, 685, 46.6, 28, col));

// density map: land below, soft tree layer above
new Chart(canvas(2159, 104, 817, 628, "background:#fff"), {
  type: "scatter",
  data: { datasets: layered([
    ...landLayers(),
    ...densityGrayShapes.map(s => polygon(s, "#dcdcdc", "#dcdcdc", 1, { xAxisID: "xd", yAxisID: "yd" }))
  ]) },
  options: { scales: { x: hiddenAxis(-35, 1496), y: hiddenAxis(16, 1524, true), xd: hiddenAxis(13, 1196), yd: hiddenAxis(55, 1503, true) } }
});
new Chart(canvas(2159, 104, 817, 628, "filter:blur(3.5px)"), {
  type: "scatter",
  data: { datasets: layered([
    ...densityZones.map(s => polygon(s, "#68b368", "#68b368", 4)),
    { data: densityDarkX.map((x, i) => ({ x, y: densityDarkY[i] })), pointRadius: 13, pointBorderWidth: 0, pointBackgroundColor: "rgba(32,125,55,.3)" },
    { data: densityLightX.map((x, i) => ({ x, y: densityLightY[i] })), pointRadius: 7, pointBorderWidth: 0, pointBackgroundColor: "rgba(190,225,180,.5)" },
    ...densityDarkStreaks.map(s => polyline(s, "rgba(32,125,55,.45)", 6)),
    ...densityLightStreaks.map(s => polyline(s, "rgba(190,225,180,.55)", 5))
  ]) },
  options: { scales: { x: hiddenAxis(13, 1196), y: hiddenAxis(55, 1503, true) } }
});
box(2165, 703, 260, 23, "rgba(255,255,255,.8)");
text("© 2024 Mapbox © OpenStreetMap", 2171, 721, 17, { font: '"Liberation Sans"', c: "#555", width: 246 });

// --- borough filter ---
text("Boroname", 2996, 143, 24, { w: 600, width: 114 });
filterItems.forEach((name, i) => {
  const y = 163 + i * 38.1;
  const b = box(3008, y, 28, 29, "#fff", "box-sizing:border-box;border:2.5px solid #666");
  b.innerHTML = '<svg width="23" height="24" viewBox="0 0 23 24"><path d="M6 13l4 7 6-16" fill="none" stroke="#555" stroke-width="2.4"/></svg>';
  text(name, 3048, y + 25, 25, { c: "#555" });
});

// --- bottom strip of the dashboard ---
box(0, 2092, 2729, 9, "#dde2d0");
box(2937, 2092, 296, 9, "#dde2d0");
[110, 405, 770, 1103, 2446].forEach(x => box(x, 2092, 2, 9, "#f4f6ee"));
</script>
</body>
</html>
